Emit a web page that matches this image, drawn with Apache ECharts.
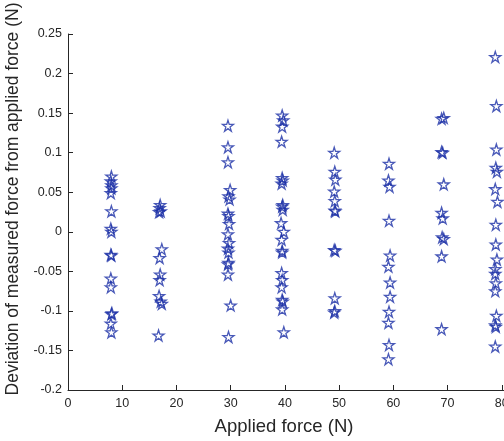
<!DOCTYPE html>
<html>
<head>
<meta charset="utf-8">
<script src="https://cdn.jsdelivr.net/npm/echarts@6/dist/echarts.min.js"></script>
<style>
  html, body { margin: 0; padding: 0; background: #fff; }
  #chart { width: 504px; height: 441px; }
</style>
</head>
<body>
<div id="chart"></div>
<script>
// Measured deviation (N) at each applied force level, as [applied force, deviation]
const at8N = [
  [8.0, 0.070], [7.9, 0.064], [8.0, 0.059], [8.0, 0.055], [7.9, 0.049],
  [8.0, 0.026], [7.9, 0.004], [8.0, 0.000], [7.9, -0.029], [8.0, -0.030],
  [7.9, -0.059], [7.9, -0.070], [8.1, -0.103], [8.0, -0.104], [7.9, -0.116],
  [8.0, -0.127]
];
const at17N = [
  [17.0, 0.034], [16.9, 0.030], [17.1, 0.026], [16.8, 0.025], [17.3, -0.022],
  [16.9, -0.033], [17.0, -0.054], [16.9, -0.061], [16.8, -0.081], [17.1, -0.088],
  [17.3, -0.091], [16.7, -0.131]
];
const at30N = [
  [29.5, 0.134], [29.5, 0.107], [29.5, 0.088], [29.9, 0.053], [29.6, 0.045],
  [29.8, 0.041], [29.5, 0.023], [29.6, 0.020], [29.7, 0.010], [29.5, -0.003],
  [29.7, -0.014], [29.5, -0.021], [29.6, -0.026], [29.6, -0.039], [29.5, -0.041],
  [29.5, -0.054], [30.0, -0.093], [29.6, -0.133]
];
const at40N = [
  [39.5, 0.147], [39.7, 0.141], [39.5, 0.133], [39.4, 0.114], [39.5, 0.068],
  [39.6, 0.065], [39.4, 0.061], [39.6, 0.034], [39.5, 0.032], [39.6, 0.028],
  [39.3, 0.011], [39.8, 0.000], [39.4, -0.010], [39.5, -0.024], [39.5, -0.026],
  [39.4, -0.052], [39.5, -0.061], [39.4, -0.070], [39.5, -0.086], [39.6, -0.088],
  [39.5, -0.098], [39.8, -0.127]
];
const at49N = [
  [49.1, 0.100], [49.2, 0.076], [49.3, 0.066], [49.1, 0.051], [49.2, 0.039],
  [49.2, 0.027], [49.3, 0.026], [49.1, -0.023], [49.3, -0.024], [49.2, -0.084],
  [49.2, -0.100], [49.1, -0.102]
];
const at59N = [
  [59.2, 0.086], [59.1, 0.065], [59.3, 0.057], [59.2, 0.014], [59.4, -0.030],
  [59.1, -0.044], [59.4, -0.064], [59.4, -0.082], [59.2, -0.101], [59.1, -0.115],
  [59.2, -0.143], [59.1, -0.161]
];
const at69N = [
  [68.9, 0.143], [69.3, 0.144], [68.9, 0.101], [69.1, 0.100], [69.3, 0.060],
  [68.9, 0.024], [69.1, 0.017], [69.0, -0.007], [69.3, -0.009], [68.9, -0.031],
  [68.9, -0.123]
];
const at79N = [
  [78.8, 0.221], [79.0, 0.159], [79.0, 0.104], [78.9, 0.081], [79.1, 0.076],
  [78.8, 0.054], [79.2, 0.038], [78.9, 0.009], [78.9, -0.016], [79.1, -0.035],
  [78.8, -0.047], [78.8, -0.053], [78.9, -0.065], [78.8, -0.075], [79.0, -0.106],
  [78.8, -0.118], [78.9, -0.120], [78.8, -0.145]
];
const forceGroups = [at8N, at17N, at30N, at40N, at49N, at59N, at69N, at79N];

const xTicks = { min: 0, max: 90, interval: 10 };
const yTicks = { min: -0.2, max: 0.25, interval: 0.05 };

const starPath = 'path://M50,2 L61.2,36.2 L97.6,36.2 L68.2,57.6 L79.4,91.8 L50,70.6 L20.6,91.8 L31.8,57.6 L2.4,36.2 L38.8,36.2 Z';
const markColor = '#1c30a6';
const axisColor = '#262626';
const font = '"Liberation Sans", Arial, Helvetica, sans-serif';

const chart = echarts.init(document.getElementById('chart'), null, { renderer: 'canvas' });

chart.setOption({
  animation: false,
  backgroundColor: '#ffffff',
  grid: {
    left: 68, top: 34, bottom: 51, width: 488,
    containLabel: false, outerBoundsMode: 'none'
  },
  xAxis: {
    type: 'value',
    min: xTicks.min, max: xTicks.max, interval: xTicks.interval,
    name: 'Applied force (N)',
    nameLocation: 'middle',
    nameGap: 27,
    // centre the title under the 0–80 span of the axis
    nameTextStyle: { fontFamily: font, fontSize: 18.5, color: axisColor, padding: [0, 56, 0, 0] },
    axisLine: { onZero: false, lineStyle: { color: axisColor, width: 1 } },
    axisTick: { inside: true, length: 5, lineStyle: { color: axisColor } },
    axisLabel: { fontFamily: font, fontSize: 12.5, color: axisColor, margin: 7 },
    splitLine: { show: false }
  },
  yAxis: {
    type: 'value',
    min: yTicks.min, max: yTicks.max, interval: yTicks.interval,
    name: 'Deviation of measured force from applied force (N)',
    nameLocation: 'middle',
    nameGap: 39,
    nameTextStyle: { fontFamily: font, fontSize: 17.5, color: axisColor, padding: [0, 0, 0, 26] },
    axisLine: { onZero: false, lineStyle: { color: axisColor, width: 1 } },
    axisTick: { inside: true, length: 5, lineStyle: { color: axisColor } },
    axisLabel: {
      fontFamily: font, fontSize: 12.5, color: axisColor, margin: 6,
      formatter: v => String(parseFloat(v.toFixed(2)))
    },
    splitLine: { show: false }
  },
  series: forceGroups.map(group => ({
    type: 'scatter',
    data: group,
    symbol: starPath,
    symbolSize: 11,
    itemStyle: { color: 'rgba(0,0,0,0)', borderColor: markColor, borderWidth: 1.3 }
  }))
});
</script>
</body>
</html>
